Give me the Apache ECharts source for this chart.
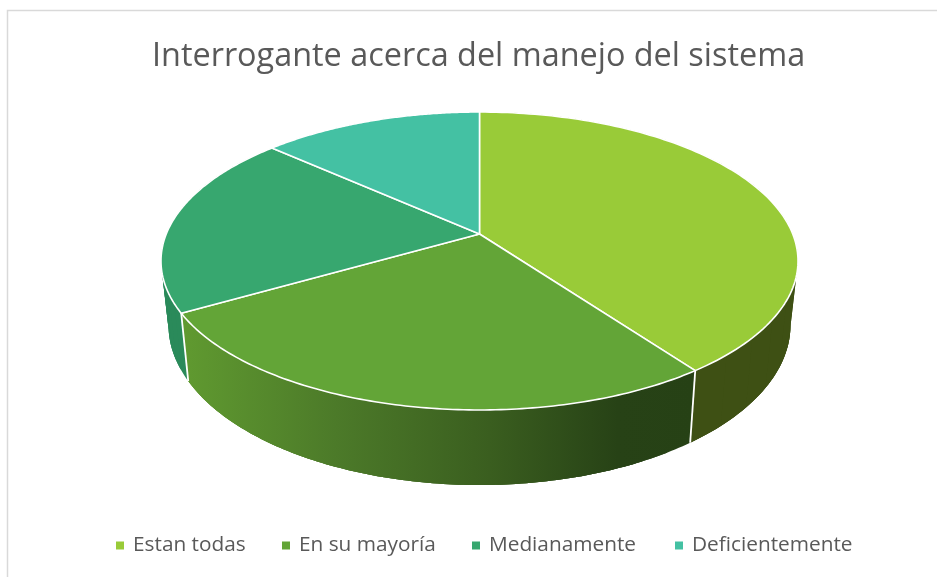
<!DOCTYPE html>
<html><head><meta charset="utf-8">
<style>html,body{margin:0;padding:0;background:#fff}#c{width:937px;height:577px}</style>
<script src="https://cdn.jsdelivr.net/npm/echarts@6/dist/echarts.min.js"></script>
</head><body><div id="c"></div>
<script>
var titleText = 'Interrogante acerca del manejo del sistema';
var categories = ['Estan todas', 'En su mayoría', 'Medianamente', 'Deficientemente'];
var values = [6, 4, 3, 2];
var topColors = ['#99CB38', '#63A537', '#37A76F', '#44C1A3'];
var legendLeft = [116, 282, 472, 675];

// Perspective pie geometry
var TOP = {cx: 479.5, cy: 261, rx: 318.5, ry: 149};
var BOT = {cx: 479.5, cy: 325, rx: 311, ry: 160};
var K = 27 / 149; // the pie's centre sits above the ellipse centre in perspective

function sideFill(i) {
  if (i === 0) return '#3E5014';
  if (i === 1) return new echarts.graphic.LinearGradient(182, 0, 695, 0, [
    {offset: 0, color: '#609A30'},
    {offset: 0.3, color: '#4C7A29'},
    {offset: 0.6, color: '#3A5E1F'},
    {offset: 0.85, color: '#274216'},
    {offset: 1, color: '#264115'}
  ], true);
  if (i === 2) return '#2A8A5A';
  return '#2F8A76';
}
function proj(theta) {
  var u = Math.sin(theta), v = -Math.cos(theta), d = 1 - K * v;
  return [u * Math.sqrt(1 - K * K) / d, (v - K) / d];
}
function onEll(E, p) { return [E.cx + E.rx * p[0], E.cy + E.ry * p[1]]; }

var total = values.reduce(function (a, b) { return a + b; }, 0);
function renderSlice(i) {
  return function () {
    var before = 0;
    for (var j = 0; j < i; j++) before += values[j];
    var a0 = before / total * 2 * Math.PI;
    var a1 = (before + values[i]) / total * 2 * Math.PI;
    var n = 120, topArc = [], botArc = [];
    for (var s = 0; s <= n; s++) {
      var p = proj(a0 + (a1 - a0) * s / n);
      topArc.push(onEll(TOP, p));
      botArc.push(onEll(BOT, p));
    }
    var apex = [TOP.cx, TOP.cy - K * TOP.ry];
    var fill = sideFill(i), children = [];
    // Overlapping wall pieces, so the silhouette follows the rulings without seams
    for (var q = 0; q < n; q += 6) {
      var e = Math.min(q + 18, n);
      children.push({type: 'polygon', z2: 1,
        shape: {points: topArc.slice(q, e + 1).concat(botArc.slice(q, e + 1).reverse())},
        style: {fill: fill}});
    }
    children.push({type: 'line', z2: 2,
      shape: {x1: topArc[0][0], y1: topArc[0][1], x2: botArc[0][0], y2: botArc[0][1]},
      style: {stroke: '#FFFFFF', lineWidth: 1.8}});
    children.push({type: 'polygon', z2: 5, shape: {points: [apex].concat(topArc)},
      style: {fill: topColors[i], stroke: '#FFFFFF', lineWidth: 1.6, lineJoin: 'round'}});
    return {type: 'group', children: children};
  };
}

var chart = echarts.init(document.getElementById('c'), null, {renderer: 'canvas'});
chart.setOption({
  animation: false,
  backgroundColor: '#FFFFFF',
  title: {
    text: titleText, left: 147, top: 36, itemGap: 0,
    textStyle: {fontFamily: 'Open Sans', fontWeight: 'normal', fontSize: 32.4, color: '#595959'}
  },
  legend: categories.map(function (c, i) {
    return {
      data: [c], left: legendLeft[i], top: 535, icon: 'rect', itemWidth: 8, itemHeight: 8, itemGap: 0,
      padding: 0, selectedMode: false,
      textStyle: {fontFamily: 'Open Sans', fontSize: 20.8, color: '#595959', padding: [0, 0, 0, 4]}
    };
  }),
  graphic: [{
    type: 'polyline', silent: true,
    shape: {points: [[7.5, 577], [7.5, 10.5], [937, 10.5]]},
    style: {fill: null, stroke: '#D9D9D9', lineWidth: 1.5}
  }],
  series: categories.map(function (c, i) {
    return {
      type: 'custom', name: c, coordinateSystem: 'none', silent: true,
      itemStyle: {color: topColors[i]},
      data: [values[i]],
      renderItem: renderSlice(i)
    };
  })
});
</script></body></html>
